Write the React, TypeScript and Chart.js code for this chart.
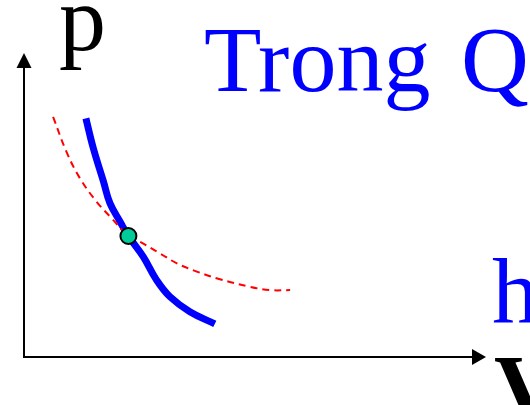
import React, { useEffect, useRef } from "react";
import { Chart, registerables } from "chart.js";

Chart.register(...registerables);

// Adiabatic curve (thick blue)
const adiabatV = [1.34, 1.5, 1.72, 1.86, 2.08, 2.26, 2.58, 2.87, 3.16, 3.59, 4.13];
const adiabatP = [7.85, 6.87, 5.77, 5.06, 4.45, 3.98, 3.3, 2.53, 1.98, 1.49, 1.09];

// Isotherm (red dashed)
const isoV = [0.63, 0.92, 1.21, 1.57, 1.9, 2.26, 2.51, 2.94, 3.31, 3.74, 4.24, 4.89, 5.33, 5.76];
const isoP = [7.9, 6.75, 5.88, 5.11, 4.56, 3.98, 3.79, 3.41, 3.08, 2.81, 2.56, 2.31, 2.2, 2.2];

// Intersection state
const stateV = [2.26];
const stateP = [3.98];

// Labels
const yLabel = "p";
const xLabel = "V";
const titleText = "Trong Q";
const sideText = "h";

const FONT = '"Liberation Serif", "Times New Roman", serif';

const overlayPlugin = {
  id: "overlay",
  afterDraw(chart: any) {
    const { ctx, chartArea } = chart;
    const { left, top, right, bottom } = chartArea;
    ctx.save();
    // axes
    ctx.strokeStyle = "#000";
    ctx.lineWidth = 2;
    ctx.beginPath();
    ctx.moveTo(left, top + 10);
    ctx.lineTo(left, bottom);
    ctx.lineTo(right - 10, bottom);
    ctx.stroke();
    ctx.fillStyle = "#000";
    // y arrow
    ctx.beginPath();
    ctx.moveTo(left, top);
    ctx.lineTo(left - 7.5, top + 15);
    ctx.lineTo(left + 7.5, top + 15);
    ctx.closePath();
    ctx.fill();
    // x arrow
    ctx.beginPath();
    ctx.moveTo(right, bottom);
    ctx.lineTo(right - 14, bottom - 8);
    ctx.lineTo(right - 14, bottom + 8);
    ctx.closePath();
    ctx.fill();
    // texts
    ctx.textAlign = "left";
    ctx.textBaseline = "alphabetic";
    ctx.font = `94px ${FONT}`;
    ctx.fillStyle = "#000";
    ctx.fillText(yLabel, left + 35, top - 3);
    ctx.fillStyle = "#0000FF";
    (ctx as any).wordSpacing = "7px";
    ctx.fillText(titleText, 204, 91);
    (ctx as any).wordSpacing = "0px";
    ctx.fillText(sideText, 492, 323);
    ctx.fillStyle = "#000";
    ctx.font = `bold 94px ${FONT}`;
    ctx.fillText(xLabel, right + 8, bottom + 62);
    ctx.restore();
  },
};

export default function App() {
  const ref = useRef<HTMLCanvasElement | null>(null);
  useEffect(() => {
    if (!ref.current) return;
    const chart = new Chart(ref.current, {
      type: "scatter",
      data: {
        datasets: [
          {
            data: stateV.map((v, i) => ({ x: v, y: stateP[i] })),
            showLine: false,
            pointRadius: 8,
            pointBackgroundColor: "#00CC99",
            pointBorderColor: "#000",
            pointBorderWidth: 2,
          },
          {
            data: isoV.map((v, i) => ({ x: v, y: isoP[i] })),
            showLine: true,
            borderColor: "#FF0000",
            borderWidth: 2,
            borderDash: [7, 5],
            pointRadius: 0,
            tension: 0.4,
            fill: false,
          },
          {
            data: adiabatV.map((v, i) => ({ x: v, y: adiabatP[i] })),
            showLine: true,
            borderColor: "#0000FF",
            borderWidth: 7,
            pointRadius: 0,
            tension: 0.4,
            fill: false,
          },
        ],
      },
      options: {
        responsive: false,
        animation: false,
        layout: { padding: { left: 24, top: 53, right: 44, bottom: 48 } },
        plugins: { legend: { display: false }, tooltip: { enabled: false } },
        scales: {
          x: { type: "linear", min: 0, max: 10, display: false },
          y: { type: "linear", min: 0, max: 10, display: false },
        },
      },
      plugins: [overlayPlugin],
    });
    return () => chart.destroy();
  }, []);
  return (
    <div style={{ position: "fixed", left: 0, top: 0, width: 530, height: 405, background: "#fff" }}>
      <canvas ref={ref} width={530} height={405} />
    </div>
  );
}
